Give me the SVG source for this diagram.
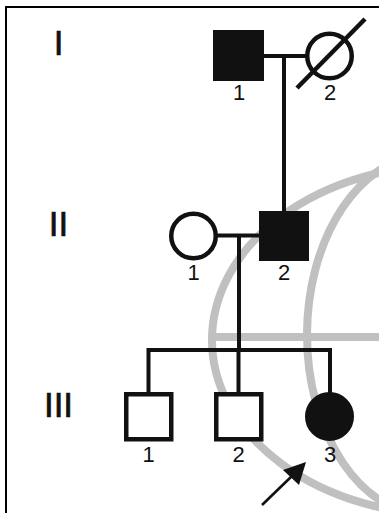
<svg xmlns="http://www.w3.org/2000/svg" width="379" height="513" viewBox="0 0 379 513">
<style>
.wm{fill:none;stroke:#c0c0c0;stroke-width:8}
.nd{stroke:#111;stroke-width:4.5}
.open{fill:#fff}
.aff{fill:#111}
.ln{fill:none;stroke:#111;stroke-width:4}
.lbl{font-family:"Liberation Sans",Arial,sans-serif;font-size:22px;fill:#111;text-anchor:middle}
.gen{font-family:"Liberation Sans",Arial,sans-serif;font-size:35px;fill:#111;stroke:#111;stroke-width:0.7;text-anchor:middle}
</style>
<rect width="379" height="513" fill="#fff"/>
<g id="watermark">
<ellipse class="wm" cx="449" cy="340" rx="237" ry="175"/>
<ellipse class="wm" cx="430" cy="335" rx="123" ry="181"/>
<line class="wm" x1="214" y1="337" x2="379" y2="337"/>
</g>
<g id="border" stroke="#000" stroke-width="2">
<line x1="6" y1="6" x2="6" y2="513"/>
<line x1="5" y1="7" x2="379" y2="7"/>
</g>
<g id="generations">
<text class="gen" x="58.5" y="55">I</text>
<text class="gen" x="58.5" y="236">II</text>
<text class="gen" x="58.5" y="417">III</text>
</g>
<g id="connectors">
<line class="ln" x1="262" y1="56" x2="306" y2="56"/>
<line class="ln" x1="284" y1="58" x2="284" y2="212"/>
<line class="ln" x1="216" y1="235.5" x2="261" y2="235.5"/>
<line class="ln" x1="239" y1="235.5" x2="239" y2="350"/>
<path class="ln" d="M148.5,394 V350 H330 V394" stroke-linejoin="miter"/>
<line class="ln" x1="238.5" y1="350" x2="238.5" y2="394"/>
<g id="proband-arrow">
<line x1="262" y1="505" x2="292" y2="476" stroke="#111" stroke-width="2.6"/>
<polygon points="306,462 283,470 299,485" fill="#111"/>
</g>
</g>
<g id="I-1">
<rect class="nd aff" x="215.25" y="32.25" width="46.5" height="46.5"/>
<text class="lbl" x="239" y="100">1</text>
</g>
<g id="I-2">
<circle class="nd open" cx="329.5" cy="56" r="22.25"/>
<line x1="365" y1="19" x2="297" y2="88" stroke="#111" stroke-width="4.5"/>
<text class="lbl" x="330" y="100">2</text>
</g>
<g id="II-1">
<circle class="nd open" cx="193.5" cy="236" r="22.25"/>
<text class="lbl" x="193.5" y="280">1</text>
</g>
<g id="II-2">
<rect class="nd aff" x="261.25" y="213.25" width="45.5" height="45.5"/>
<text class="lbl" x="284" y="280">2</text>
</g>
<g id="III-1">
<rect class="nd open" x="126.25" y="394.25" width="45" height="45"/>
<text class="lbl" x="148.5" y="462">1</text>
</g>
<g id="III-2">
<rect class="nd open" x="216.25" y="394.25" width="45" height="45"/>
<text class="lbl" x="238.5" y="462">2</text>
</g>
<g id="III-3">
<circle class="nd aff" cx="329.5" cy="416.5" r="22.25"/>
<text class="lbl" x="330" y="462">3</text>
</g>
</svg>
